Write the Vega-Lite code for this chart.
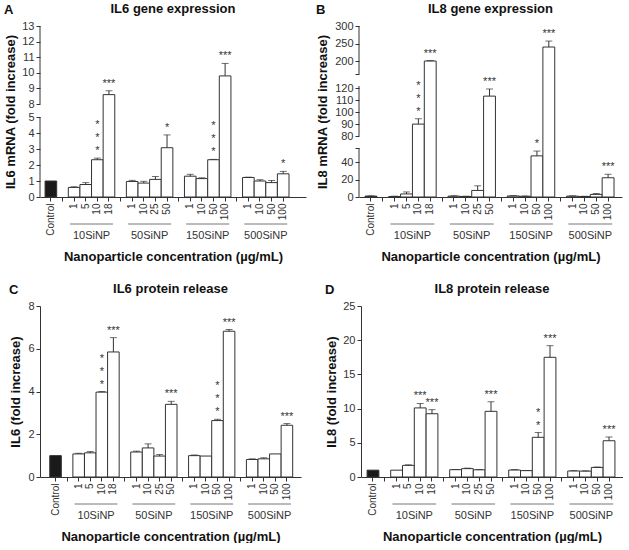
{
"$schema": "https://vega.github.io/schema/vega-lite/v6.json",
"background": "white",
"padding": {"left": 4, "top": 3, "right": 0, "bottom": 0},
"datasets": {
"groups": [
{"g": "10SiNP", "first": "10SiNP 1", "mid": "10SiNP 5", "last": "10SiNP 18"},
{"g": "50SiNP", "first": "50SiNP 1", "mid": "50SiNP 10", "last": "50SiNP 50"},
{"g": "150SiNP", "first": "150SiNP 1", "mid": "150SiNP 10", "last": "150SiNP 100"},
{"g": "500SiNP", "first": "500SiNP 1", "mid": "500SiNP 10", "last": "500SiNP 100"}
],
"segA": [{"lo": 0, "hi": 5}, {"lo": 8, "hi": 13}],
"segB": [{"lo": 0, "hi": 56}, {"lo": 80, "hi": 122}, {"lo": 163, "hi": 300}],
"A": [
{"k": "Control", "v": 1.0, "u": 1.0, "s": "", "kind": "control"},
{"k": "10SiNP 1", "v": 0.6, "u": 0.64, "s": "", "kind": "treated"},
{"k": "10SiNP 5", "v": 0.78, "u": 0.9, "s": "", "kind": "treated"},
{"k": "10SiNP 10", "v": 2.33, "u": 2.43, "s": "*\n*\n*", "kind": "treated"},
{"k": "10SiNP 18", "v": 8.6, "u": 8.85, "s": "***", "kind": "treated"},
{"k": "50SiNP 1", "v": 0.97, "u": 1.04, "s": "", "kind": "treated"},
{"k": "50SiNP 10", "v": 0.87, "u": 0.98, "s": "", "kind": "treated"},
{"k": "50SiNP 25", "v": 1.1, "u": 1.28, "s": "", "kind": "treated"},
{"k": "50SiNP 50", "v": 3.08, "u": 3.88, "s": "*", "kind": "treated"},
{"k": "150SiNP 1", "v": 1.3, "u": 1.42, "s": "", "kind": "treated"},
{"k": "150SiNP 10", "v": 1.15, "u": 1.2, "s": "", "kind": "treated"},
{"k": "150SiNP 50", "v": 2.33, "u": 2.35, "s": "*\n*\n*", "kind": "treated"},
{"k": "150SiNP 100", "v": 9.8, "u": 10.6, "s": "***", "kind": "treated"},
{"k": "500SiNP 1", "v": 1.22, "u": 1.24, "s": "", "kind": "treated"},
{"k": "500SiNP 10", "v": 1.0, "u": 1.08, "s": "", "kind": "treated"},
{"k": "500SiNP 50", "v": 0.9, "u": 1.03, "s": "", "kind": "treated"},
{"k": "500SiNP 100", "v": 1.45, "u": 1.6, "s": "*", "kind": "treated"}
],
"B": [
{"k": "Control", "v": 1.0, "u": 1.3, "s": "", "kind": "control"},
{"k": "10SiNP 1", "v": 0.6, "u": 0.9, "s": "", "kind": "treated"},
{"k": "10SiNP 5", "v": 3.5, "u": 5.8, "s": "", "kind": "treated"},
{"k": "10SiNP 10", "v": 90, "u": 94.5, "s": "*\n*\n*", "kind": "treated"},
{"k": "10SiNP 18", "v": 200, "u": 201.5, "s": "***", "kind": "treated"},
{"k": "50SiNP 1", "v": 1.0, "u": 1.4, "s": "", "kind": "treated"},
{"k": "50SiNP 10", "v": 0.6, "u": 0.9, "s": "", "kind": "treated"},
{"k": "50SiNP 25", "v": 7.5, "u": 12.8, "s": "", "kind": "treated"},
{"k": "50SiNP 50", "v": 113.5, "u": 119.5, "s": "***", "kind": "treated"},
{"k": "150SiNP 1", "v": 1.2, "u": 1.6, "s": "", "kind": "treated"},
{"k": "150SiNP 10", "v": 0.8, "u": 1.1, "s": "", "kind": "treated"},
{"k": "150SiNP 50", "v": 47, "u": 52.5, "s": "*", "kind": "treated"},
{"k": "150SiNP 100", "v": 240, "u": 257, "s": "***", "kind": "treated"},
{"k": "500SiNP 1", "v": 1.0, "u": 1.3, "s": "", "kind": "treated"},
{"k": "500SiNP 10", "v": 0.6, "u": 0.8, "s": "", "kind": "treated"},
{"k": "500SiNP 50", "v": 3.0, "u": 4.0, "s": "", "kind": "treated"},
{"k": "500SiNP 100", "v": 22, "u": 26, "s": "***", "kind": "treated"}
],
"C": [
{"k": "Control", "v": 1.0, "u": 1.0, "s": "", "kind": "control"},
{"k": "10SiNP 1", "v": 1.08, "u": 1.11, "s": "", "kind": "treated"},
{"k": "10SiNP 5", "v": 1.13, "u": 1.19, "s": "", "kind": "treated"},
{"k": "10SiNP 10", "v": 3.97, "u": 4.0, "s": "*\n*\n*", "kind": "treated"},
{"k": "10SiNP 18", "v": 5.85, "u": 6.52, "s": "***", "kind": "treated"},
{"k": "50SiNP 1", "v": 1.17, "u": 1.21, "s": "", "kind": "treated"},
{"k": "50SiNP 10", "v": 1.36, "u": 1.55, "s": "", "kind": "treated"},
{"k": "50SiNP 25", "v": 0.98, "u": 1.05, "s": "", "kind": "treated"},
{"k": "50SiNP 50", "v": 3.4, "u": 3.54, "s": "***", "kind": "treated"},
{"k": "150SiNP 1", "v": 1.0, "u": 1.03, "s": "", "kind": "treated"},
{"k": "150SiNP 10", "v": 0.98, "u": 0.98, "s": "", "kind": "treated"},
{"k": "150SiNP 50", "v": 2.64, "u": 2.7, "s": "*\n*\n*", "kind": "treated"},
{"k": "150SiNP 100", "v": 6.82, "u": 6.9, "s": "***", "kind": "treated"},
{"k": "500SiNP 1", "v": 0.82, "u": 0.85, "s": "", "kind": "treated"},
{"k": "500SiNP 10", "v": 0.85, "u": 0.9, "s": "", "kind": "treated"},
{"k": "500SiNP 50", "v": 1.08, "u": 1.08, "s": "", "kind": "treated"},
{"k": "500SiNP 100", "v": 2.42, "u": 2.5, "s": "***", "kind": "treated"}
],
"D": [
{"k": "Control", "v": 1.0, "u": 1.0, "s": "", "kind": "control"},
{"k": "10SiNP 1", "v": 1.0, "u": 1.0, "s": "", "kind": "treated"},
{"k": "10SiNP 5", "v": 1.7, "u": 1.78, "s": "", "kind": "treated"},
{"k": "10SiNP 10", "v": 10.1, "u": 10.75, "s": "***", "kind": "treated"},
{"k": "10SiNP 18", "v": 9.25, "u": 9.85, "s": "***", "kind": "treated"},
{"k": "50SiNP 1", "v": 1.07, "u": 1.1, "s": "", "kind": "treated"},
{"k": "50SiNP 10", "v": 1.22, "u": 1.3, "s": "", "kind": "treated"},
{"k": "50SiNP 25", "v": 1.05, "u": 1.1, "s": "", "kind": "treated"},
{"k": "50SiNP 50", "v": 9.6, "u": 11.0, "s": "***", "kind": "treated"},
{"k": "150SiNP 1", "v": 1.02, "u": 1.08, "s": "", "kind": "treated"},
{"k": "150SiNP 10", "v": 0.93, "u": 0.95, "s": "", "kind": "treated"},
{"k": "150SiNP 50", "v": 5.8, "u": 6.5, "s": "*\n*", "kind": "treated"},
{"k": "150SiNP 100", "v": 17.5, "u": 19.2, "s": "***", "kind": "treated"},
{"k": "500SiNP 1", "v": 0.88, "u": 0.93, "s": "", "kind": "treated"},
{"k": "500SiNP 10", "v": 0.86, "u": 0.9, "s": "", "kind": "treated"},
{"k": "500SiNP 50", "v": 1.4, "u": 1.46, "s": "", "kind": "treated"},
{"k": "500SiNP 100", "v": 5.3, "u": 5.85, "s": "***", "kind": "treated"}
]
},
"spacing": 20,
"vconcat": [
{"hconcat": [
{"title": {"text": "A", "anchor": "start", "frame": "bounds", "offset": -14}, "bounds": "flush", "spacing": 27, "vconcat": [
{"width": 266, "height": 171, "title": {"text": "IL6 gene expression"}, "data": {"name": "A"},
"encoding": {"x": {"field": "k", "type": "nominal", "sort": null, "scale": {"domain": ["Control","g1","10SiNP 1","10SiNP 5","10SiNP 10","10SiNP 18","g2","50SiNP 1","50SiNP 10","50SiNP 25","50SiNP 50","g3","150SiNP 1","150SiNP 10","150SiNP 50","150SiNP 100","g4","500SiNP 1","500SiNP 10","500SiNP 50","500SiNP 100"], "paddingInner": 0, "paddingOuter": 0.95, "align": 0.23},
"axis": {"title": null, "labelAngle": -90, "labelFontSize": 10, "labelPadding": 2, "labelExpr": "indexof(datum.value, ' ') > 0 ? split(datum.value, ' ')[1] : (datum.value == 'Control' ? 'Control' : '')"}},
"y": {"field": "v", "type": "quantitative", "title": "IL6  mRNA (fold increase)", "scale": {"domain": [0, 5, 8, 13], "range": [171, 91, 78, 0], "nice": false, "zero": false}, "axis": {"values": [0,1,2,3,4,5,8,9,10,11,12,13], "domain": false, "titlePadding": 5, "minExtent": 18, "maxExtent": 18}}},
"layer": [
{"mark": {"type": "bar", "stroke": "#333", "strokeWidth": 1},
"encoding": {"y2": {"datum": 0},
"fill": {"field": "kind", "type": "nominal", "scale": {"domain": ["control", "treated"], "range": ["#1a1a1a", "#ffffff"]}, "legend": null}}},
{"data": {"name": "segA"}, "mark": {"type": "rule", "color": "#333"},
"encoding": {"x": {"datum": "Control", "type": "nominal", "bandPosition": -0.437}, "y": {"field": "lo", "type": "quantitative", "title": "IL6  mRNA (fold increase)"}, "y2": {"field": "hi"}}},
{"transform": [{"filter": "datum.u > datum.v"}], "mark": {"type": "rule", "color": "#333"},
"encoding": {"y2": {"field": "u"}}},
{"transform": [{"filter": "datum.u > datum.v"}], "mark": {"type": "tick", "color": "#333", "size": 7, "thickness": 1},
"encoding": {"y": {"field": "u", "type": "quantitative", "title": "IL6  mRNA (fold increase)"}}},
{"transform": [{"filter": "indexof(datum.s, '\\n') < 0"}], "mark": {"type": "text", "baseline": "bottom", "dy": -2, "fontSize": 11, "color": "#333"},
"encoding": {"y": {"field": "u", "type": "quantitative", "title": "IL6  mRNA (fold increase)"}, "text": {"field": "s"}}},
{"transform": [{"filter": "length(datum.s) == 5"}], "mark": {"type": "text", "baseline": "bottom", "dy": -28, "fontSize": 11, "lineBreak": "\n", "lineHeight": 13, "color": "#333"},
"encoding": {"y": {"field": "u", "type": "quantitative", "title": "IL6  mRNA (fold increase)"}, "text": {"field": "s"}}}
]},
{"width": 266, "height": 12, "data": {"name": "groups"},
"layer": [
{"mark": {"type": "rule", "color": "#777"},
"encoding": {"x": {"field": "first", "type": "nominal", "sort": null, "bandPosition": 0.15, "scale": {"domain": ["Control","g1","10SiNP 1","10SiNP 5","10SiNP 10","10SiNP 18","g2","50SiNP 1","50SiNP 10","50SiNP 25","50SiNP 50","g3","150SiNP 1","150SiNP 10","150SiNP 50","150SiNP 100","g4","500SiNP 1","500SiNP 10","500SiNP 50","500SiNP 100"], "paddingInner": 0, "paddingOuter": 0.95, "align": 0.23}, "title": "Nanoparticle concentration (µg/mL)", "axis": {"labels": false, "ticks": false, "domain": false, "titlePadding": 14}},
"x2": {"field": "last", "bandPosition": 0.85},
"y": {"datum": 1, "type": "quantitative", "scale": {"domain": [0, 1]}, "axis": null}}},
{"mark": {"type": "text", "baseline": "middle", "fontSize": 11, "color": "#333"},
"encoding": {"x": {"field": "mid", "type": "nominal", "sort": null, "bandPosition": 1, "scale": {"domain": ["Control","g1","10SiNP 1","10SiNP 5","10SiNP 10","10SiNP 18","g2","50SiNP 1","50SiNP 10","50SiNP 25","50SiNP 50","g3","150SiNP 1","150SiNP 10","150SiNP 50","150SiNP 100","g4","500SiNP 1","500SiNP 10","500SiNP 50","500SiNP 100"], "paddingInner": 0, "paddingOuter": 0.95, "align": 0.23}, "title": "Nanoparticle concentration (µg/mL)", "axis": {"labels": false, "ticks": false, "domain": false, "titlePadding": 14}},
"y": {"datum": 0, "type": "quantitative", "scale": {"domain": [0, 1]}, "axis": null}, "text": {"field": "g"}}}
]}
]},
{"title": {"text": "B", "anchor": "start", "frame": "bounds", "offset": -14}, "bounds": "flush", "spacing": 27, "vconcat": [
{"width": 263, "height": 171, "title": {"text": "IL8 gene expression"}, "data": {"name": "B"},
"encoding": {"x": {"field": "k", "type": "nominal", "sort": null, "scale": {"domain": ["Control","g1","10SiNP 1","10SiNP 5","10SiNP 10","10SiNP 18","g2","50SiNP 1","50SiNP 10","50SiNP 25","50SiNP 50","g3","150SiNP 1","150SiNP 10","150SiNP 50","150SiNP 100","g4","500SiNP 1","500SiNP 10","500SiNP 50","500SiNP 100"], "paddingInner": 0, "paddingOuter": 0.59, "align": 0.43},
"axis": {"title": null, "labelAngle": -90, "labelFontSize": 10, "labelPadding": 2, "labelExpr": "indexof(datum.value, ' ') > 0 ? split(datum.value, ' ')[1] : (datum.value == 'Control' ? 'Control' : '')"}},
"y": {"field": "v", "type": "quantitative", "title": "IL8  mRNA (fold increase)", "scale": {"domain": [0, 56, 80, 122, 163, 300], "range": [171, 122, 110, 60, 48, 0], "nice": false, "zero": false}, "axis": {"values": [0,20,40,56,80,90,100,110,120,163,200,250,300], "labelExpr": "datum.value == 56 || datum.value == 163 ? '' : datum.label", "domain": false, "titlePadding": 5, "minExtent": 25, "maxExtent": 25}}},
"layer": [
{"mark": {"type": "bar", "stroke": "#333", "strokeWidth": 1},
"encoding": {"y2": {"datum": 0},
"fill": {"field": "kind", "type": "nominal", "scale": {"domain": ["control", "treated"], "range": ["#1a1a1a", "#ffffff"]}, "legend": null}}},
{"data": {"name": "segB"}, "mark": {"type": "rule", "color": "#333"},
"encoding": {"x": {"datum": "Control", "type": "nominal", "bandPosition": -0.507}, "y": {"field": "lo", "type": "quantitative", "title": "IL8  mRNA (fold increase)"}, "y2": {"field": "hi"}}},
{"transform": [{"filter": "datum.u > datum.v"}], "mark": {"type": "rule", "color": "#333"},
"encoding": {"y2": {"field": "u"}}},
{"transform": [{"filter": "datum.u > datum.v"}], "mark": {"type": "tick", "color": "#333", "size": 7, "thickness": 1},
"encoding": {"y": {"field": "u", "type": "quantitative", "title": "IL8  mRNA (fold increase)"}}},
{"transform": [{"filter": "indexof(datum.s, '\\n') < 0"}], "mark": {"type": "text", "baseline": "bottom", "dy": -2, "fontSize": 11, "color": "#333"},
"encoding": {"y": {"field": "u", "type": "quantitative", "title": "IL8  mRNA (fold increase)"}, "text": {"field": "s"}}},
{"transform": [{"filter": "length(datum.s) == 5"}], "mark": {"type": "text", "baseline": "bottom", "dy": -28, "fontSize": 11, "lineBreak": "\n", "lineHeight": 13, "color": "#333"},
"encoding": {"y": {"field": "u", "type": "quantitative", "title": "IL8  mRNA (fold increase)"}, "text": {"field": "s"}}}
]},
{"width": 263, "height": 12, "data": {"name": "groups"},
"layer": [
{"mark": {"type": "rule", "color": "#777"},
"encoding": {"x": {"field": "first", "type": "nominal", "sort": null, "bandPosition": 0.15, "scale": {"domain": ["Control","g1","10SiNP 1","10SiNP 5","10SiNP 10","10SiNP 18","g2","50SiNP 1","50SiNP 10","50SiNP 25","50SiNP 50","g3","150SiNP 1","150SiNP 10","150SiNP 50","150SiNP 100","g4","500SiNP 1","500SiNP 10","500SiNP 50","500SiNP 100"], "paddingInner": 0, "paddingOuter": 0.59, "align": 0.43}, "title": "Nanoparticle concentration (µg/mL)", "axis": {"labels": false, "ticks": false, "domain": false, "titlePadding": 14}},
"x2": {"field": "last", "bandPosition": 0.85},
"y": {"datum": 1, "type": "quantitative", "scale": {"domain": [0, 1]}, "axis": null}}},
{"mark": {"type": "text", "baseline": "middle", "fontSize": 11, "color": "#333"},
"encoding": {"x": {"field": "mid", "type": "nominal", "sort": null, "bandPosition": 1, "scale": {"domain": ["Control","g1","10SiNP 1","10SiNP 5","10SiNP 10","10SiNP 18","g2","50SiNP 1","50SiNP 10","50SiNP 25","50SiNP 50","g3","150SiNP 1","150SiNP 10","150SiNP 50","150SiNP 100","g4","500SiNP 1","500SiNP 10","500SiNP 50","500SiNP 100"], "paddingInner": 0, "paddingOuter": 0.59, "align": 0.43}, "title": "Nanoparticle concentration (µg/mL)", "axis": {"labels": false, "ticks": false, "domain": false, "titlePadding": 14}},
"y": {"datum": 0, "type": "quantitative", "scale": {"domain": [0, 1]}, "axis": null}, "text": {"field": "g"}}}
]}
]}
], "spacing": 10},
{"hconcat": [
{"title": {"text": "C", "anchor": "start", "frame": "bounds", "offset": -14}, "bounds": "flush", "spacing": 27, "vconcat": [
{"width": 261, "height": 171, "title": {"text": "IL6 protein release"}, "data": {"name": "C"},
"encoding": {"x": {"field": "k", "type": "nominal", "sort": null, "scale": {"domain": ["Control","g1","10SiNP 1","10SiNP 5","10SiNP 10","10SiNP 18","g2","50SiNP 1","50SiNP 10","50SiNP 25","50SiNP 50","g3","150SiNP 1","150SiNP 10","150SiNP 50","150SiNP 100","g4","500SiNP 1","500SiNP 10","500SiNP 50","500SiNP 100"], "paddingInner": 0, "paddingOuter": 0.78, "align": 0.54},
"axis": {"title": null, "labelAngle": -90, "labelFontSize": 10, "labelPadding": 2, "labelExpr": "indexof(datum.value, ' ') > 0 ? split(datum.value, ' ')[1] : (datum.value == 'Control' ? 'Control' : '')"}},
"y": {"field": "v", "type": "quantitative", "title": "IL6 (fold increase)", "scale": {"domain": [0, 8], "nice": false, "zero": false}, "axis": {"values": [0,2,4,6,8], "titlePadding": 5, "minExtent": 13, "maxExtent": 13}}},
"layer": [
{"mark": {"type": "bar", "stroke": "#333", "strokeWidth": 1},
"encoding": {"y2": {"datum": 0},
"fill": {"field": "kind", "type": "nominal", "scale": {"domain": ["control", "treated"], "range": ["#1a1a1a", "#ffffff"]}, "legend": null}}},
{"transform": [{"filter": "datum.u > datum.v"}], "mark": {"type": "rule", "color": "#333"},
"encoding": {"y2": {"field": "u"}}},
{"transform": [{"filter": "datum.u > datum.v"}], "mark": {"type": "tick", "color": "#333", "size": 7, "thickness": 1},
"encoding": {"y": {"field": "u", "type": "quantitative", "title": "IL6 (fold increase)"}}},
{"transform": [{"filter": "indexof(datum.s, '\\n') < 0"}], "mark": {"type": "text", "baseline": "bottom", "dy": -2, "fontSize": 11, "color": "#333"},
"encoding": {"y": {"field": "u", "type": "quantitative", "title": "IL6 (fold increase)"}, "text": {"field": "s"}}},
{"transform": [{"filter": "length(datum.s) == 5"}], "mark": {"type": "text", "baseline": "bottom", "dy": -28, "fontSize": 11, "lineBreak": "\n", "lineHeight": 13, "color": "#333"},
"encoding": {"y": {"field": "u", "type": "quantitative", "title": "IL6 (fold increase)"}, "text": {"field": "s"}}}
]},
{"width": 261, "height": 12, "data": {"name": "groups"},
"layer": [
{"mark": {"type": "rule", "color": "#777"},
"encoding": {"x": {"field": "first", "type": "nominal", "sort": null, "bandPosition": 0.15, "scale": {"domain": ["Control","g1","10SiNP 1","10SiNP 5","10SiNP 10","10SiNP 18","g2","50SiNP 1","50SiNP 10","50SiNP 25","50SiNP 50","g3","150SiNP 1","150SiNP 10","150SiNP 50","150SiNP 100","g4","500SiNP 1","500SiNP 10","500SiNP 50","500SiNP 100"], "paddingInner": 0, "paddingOuter": 0.78, "align": 0.54}, "title": "Nanoparticle concentration (µg/mL)", "axis": {"labels": false, "ticks": false, "domain": false, "titlePadding": 14}},
"x2": {"field": "last", "bandPosition": 0.85},
"y": {"datum": 1, "type": "quantitative", "scale": {"domain": [0, 1]}, "axis": null}}},
{"mark": {"type": "text", "baseline": "middle", "fontSize": 11, "color": "#333"},
"encoding": {"x": {"field": "mid", "type": "nominal", "sort": null, "bandPosition": 1, "scale": {"domain": ["Control","g1","10SiNP 1","10SiNP 5","10SiNP 10","10SiNP 18","g2","50SiNP 1","50SiNP 10","50SiNP 25","50SiNP 50","g3","150SiNP 1","150SiNP 10","150SiNP 50","150SiNP 100","g4","500SiNP 1","500SiNP 10","500SiNP 50","500SiNP 100"], "paddingInner": 0, "paddingOuter": 0.78, "align": 0.54}, "title": "Nanoparticle concentration (µg/mL)", "axis": {"labels": false, "ticks": false, "domain": false, "titlePadding": 14}},
"y": {"datum": 0, "type": "quantitative", "scale": {"domain": [0, 1]}, "axis": null}, "text": {"field": "g"}}}
]}
]},
{"title": {"text": "D", "anchor": "start", "frame": "bounds", "offset": -14}, "bounds": "flush", "spacing": 27, "vconcat": [
{"width": 262, "height": 171, "title": {"text": "IL8 protein release"}, "data": {"name": "D"},
"encoding": {"x": {"field": "k", "type": "nominal", "sort": null, "scale": {"domain": ["Control","g1","10SiNP 1","10SiNP 5","10SiNP 10","10SiNP 18","g2","50SiNP 1","50SiNP 10","50SiNP 25","50SiNP 50","g3","150SiNP 1","150SiNP 10","150SiNP 50","150SiNP 100","g4","500SiNP 1","500SiNP 10","500SiNP 50","500SiNP 100"], "paddingInner": 0, "paddingOuter": 0.6, "align": 0.43},
"axis": {"title": null, "labelAngle": -90, "labelFontSize": 10, "labelPadding": 2, "labelExpr": "indexof(datum.value, ' ') > 0 ? split(datum.value, ' ')[1] : (datum.value == 'Control' ? 'Control' : '')"}},
"y": {"field": "v", "type": "quantitative", "title": "IL8 (fold increase)", "scale": {"domain": [0, 25], "nice": false, "zero": false}, "axis": {"values": [0,5,10,15,20,25], "titlePadding": 5, "minExtent": 18, "maxExtent": 18}}},
"layer": [
{"mark": {"type": "bar", "stroke": "#333", "strokeWidth": 1},
"encoding": {"y2": {"datum": 0},
"fill": {"field": "kind", "type": "nominal", "scale": {"domain": ["control", "treated"], "range": ["#1a1a1a", "#ffffff"]}, "legend": null}}},
{"transform": [{"filter": "datum.u > datum.v"}], "mark": {"type": "rule", "color": "#333"},
"encoding": {"y2": {"field": "u"}}},
{"transform": [{"filter": "datum.u > datum.v"}], "mark": {"type": "tick", "color": "#333", "size": 7, "thickness": 1},
"encoding": {"y": {"field": "u", "type": "quantitative", "title": "IL8 (fold increase)"}}},
{"transform": [{"filter": "indexof(datum.s, '\\n') < 0"}], "mark": {"type": "text", "baseline": "bottom", "dy": -2, "fontSize": 11, "color": "#333"},
"encoding": {"y": {"field": "u", "type": "quantitative", "title": "IL8 (fold increase)"}, "text": {"field": "s"}}},
{"transform": [{"filter": "indexof(datum.s, '\\n') > 0"}], "mark": {"type": "text", "baseline": "bottom", "dy": -15, "fontSize": 11, "lineBreak": "\n", "lineHeight": 13, "color": "#333"},
"encoding": {"y": {"field": "u", "type": "quantitative", "title": "IL8 (fold increase)"}, "text": {"field": "s"}}}
]},
{"width": 262, "height": 12, "data": {"name": "groups"},
"layer": [
{"mark": {"type": "rule", "color": "#777"},
"encoding": {"x": {"field": "first", "type": "nominal", "sort": null, "bandPosition": 0.15, "scale": {"domain": ["Control","g1","10SiNP 1","10SiNP 5","10SiNP 10","10SiNP 18","g2","50SiNP 1","50SiNP 10","50SiNP 25","50SiNP 50","g3","150SiNP 1","150SiNP 10","150SiNP 50","150SiNP 100","g4","500SiNP 1","500SiNP 10","500SiNP 50","500SiNP 100"], "paddingInner": 0, "paddingOuter": 0.6, "align": 0.43}, "title": "Nanoparticle concentration (µg/mL)", "axis": {"labels": false, "ticks": false, "domain": false, "titlePadding": 14}},
"x2": {"field": "last", "bandPosition": 0.85},
"y": {"datum": 1, "type": "quantitative", "scale": {"domain": [0, 1]}, "axis": null}}},
{"mark": {"type": "text", "baseline": "middle", "fontSize": 11, "color": "#333"},
"encoding": {"x": {"field": "mid", "type": "nominal", "sort": null, "bandPosition": 1, "scale": {"domain": ["Control","g1","10SiNP 1","10SiNP 5","10SiNP 10","10SiNP 18","g2","50SiNP 1","50SiNP 10","50SiNP 25","50SiNP 50","g3","150SiNP 1","150SiNP 10","150SiNP 50","150SiNP 100","g4","500SiNP 1","500SiNP 10","500SiNP 50","500SiNP 100"], "paddingInner": 0, "paddingOuter": 0.6, "align": 0.43}, "title": "Nanoparticle concentration (µg/mL)", "axis": {"labels": false, "ticks": false, "domain": false, "titlePadding": 14}},
"y": {"datum": 0, "type": "quantitative", "scale": {"domain": [0, 1]}, "axis": null}, "text": {"field": "g"}}}
]}
]}
], "spacing": 24}
],
"config": {
"font": "Liberation Sans",
"view": {"stroke": null},
"axis": {"grid": false, "labelFont": "Liberation Sans", "titleFont": "Liberation Sans", "labelColor": "#333", "titleColor": "#111", "domainColor": "#333", "tickColor": "#333", "titleFontSize": 13, "titleFontWeight": "bold", "labelFontSize": 11, "tickSize": 4, "labelPadding": 2},
"title": {"font": "Liberation Sans", "fontSize": 13, "fontWeight": "bold", "color": "#111", "offset": 4}
}
}
